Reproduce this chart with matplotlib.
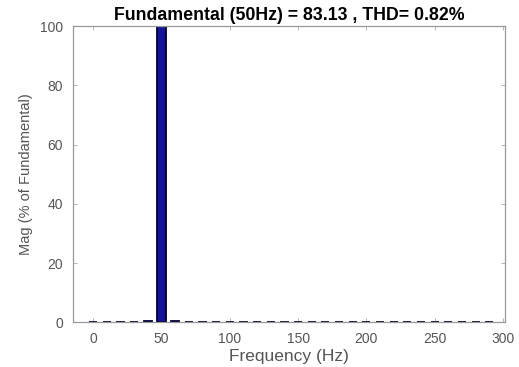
import numpy as np
import matplotlib
matplotlib.use('Agg')
import matplotlib.pyplot as plt

plt.rcParams['font.family'] = ['Liberation Sans', 'DejaVu Sans']

# Harmonic spectrum (10 Hz resolution), magnitude in % of fundamental
freqs = np.arange(0, 300, 10)
mags = [0.05, 0.1, 0.15, 0.2, 0.45, 100.0, 0.5, 0.25, 0.15, 0.1,
        0.1, 0.1, 0.1, 0.1, 0.1, 0.1, 0.1, 0.1, 0.1, 0.1,
        0.1, 0.1, 0.1, 0.1, 0.1, 0.1, 0.1, 0.1, 0.1, 0.1]

title = 'Fundamental (50Hz) = 83.13 , THD= 0.82%'
xticks = [0, 50, 100, 150, 200, 250, 300]
yticks = [0, 20, 40, 60, 80, 100]

fig = plt.figure(figsize=(5.19, 3.67), dpi=100)
ax = fig.add_axes([72.7 / 519, 1 - 322.3 / 367, (505 - 72.7) / 519, (322.3 - 26) / 367])
ax.set_axisbelow(True)

ax.bar(freqs, mags, width=6, color='#14149a', edgecolor='#000030',
       linewidth=1.3, zorder=2)

ax.set_xlim(-15, 301.5)
ax.set_ylim(0, 100)
ax.set_xticks(xticks)
ax.set_yticks(yticks)

grey = '#555555'
for s in ax.spines.values():
    s.set_color('#999999')
    s.set_linewidth(0.9)
    s.set_zorder(3)
ax.tick_params(direction='in', length=3, width=0.6, color='#aaaaaa',
               labelcolor=grey, labelsize=10, top=True, right=True, pad=7)

ax.set_title(title, fontsize=12.8, fontweight='bold', pad=4)
ax.set_xlabel('Frequency (Hz)', fontsize=12.5, color=grey, labelpad=2)
ax.set_ylabel('Mag (% of Fundamental)', fontsize=10.5, color=grey, labelpad=5)

fig.savefig('out.png', dpi=100)
